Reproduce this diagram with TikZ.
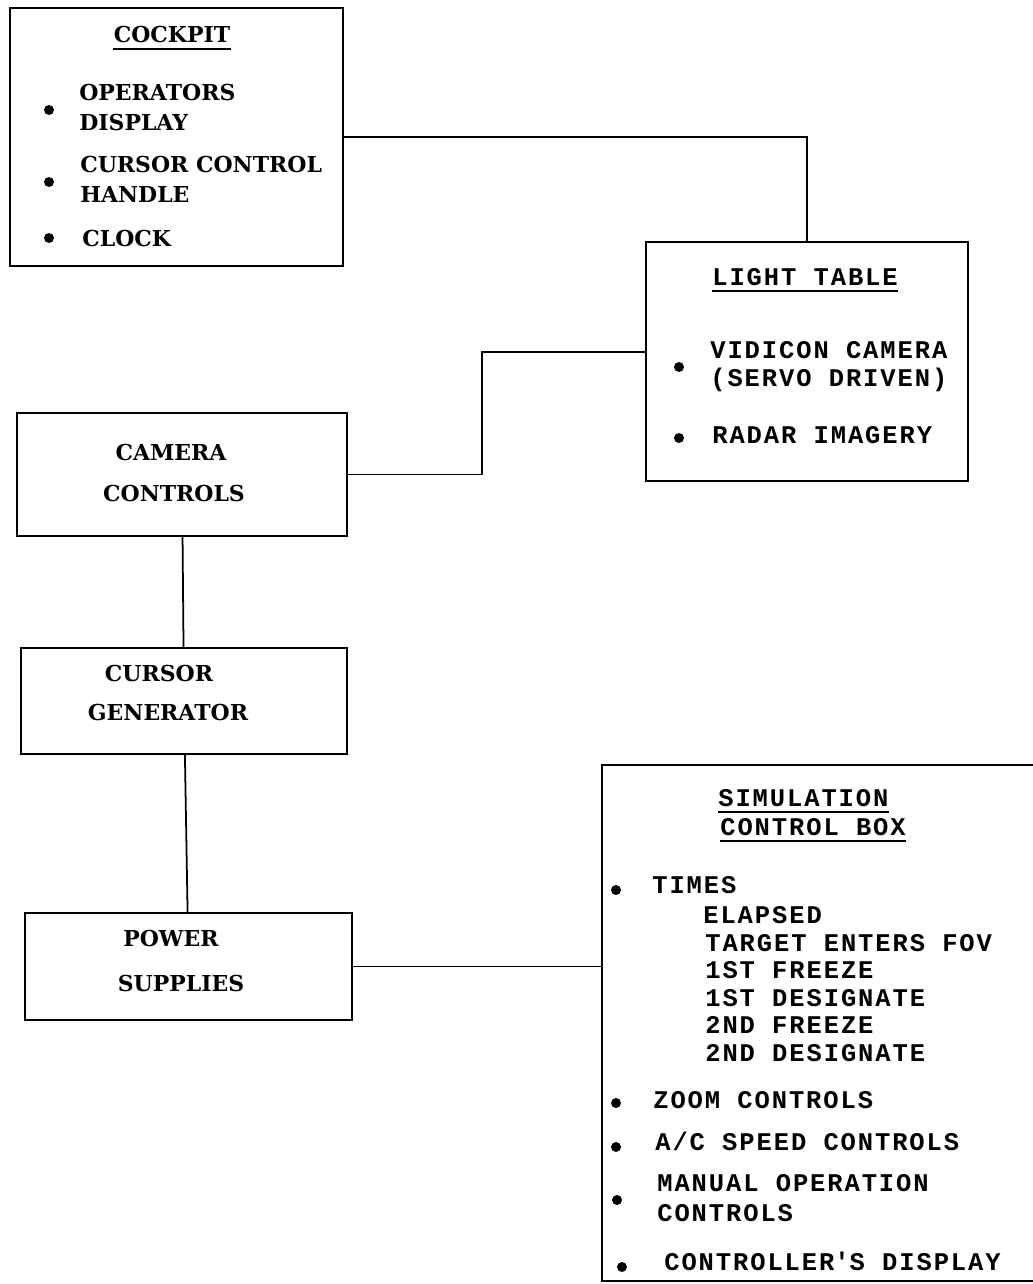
\documentclass[tikz,border=0pt]{standalone}
\usepackage{fontspec}
\setmainfont{DejaVu Serif}
\newfontfamily\typewr[LetterSpace=7.5]{Liberation Mono}

\begin{document}
\begin{tikzpicture}
            [x=0.02cm, y=-0.02cm,
        box/.style={draw, line width=1.4pt, outer sep=0pt, inner sep=0pt},
        wire/.style={line width=1pt},
        uline/.style={line width=1.1pt},
        txt/.style={inner sep=0pt, anchor=base west, font=\fontsize{12.5}{15}\selectfont\bfseries},
        ctxt/.style={txt, anchor=base},
        tt/.style={inner sep=0pt, anchor=base west, font=\typewr\bfseries\fontsize{14.5}{17}\selectfont},
        dot/.style={circle, fill, inner sep=0pt, minimum size=0.2cm}]
            \clip (0,0) rectangle (1033,1284);

            \node[box, minimum width=6.66cm, minimum height=5.16cm] (cockpit) at (176.5,137) {};
            \node[box, minimum width=6.44cm, minimum height=4.78cm] (light) at (807,361.5) {};
            \node[box, minimum width=6.6cm, minimum height=2.46cm] (camera) at (182,474.5) {};
            \node[box, minimum width=6.52cm, minimum height=2.12cm] (cursor) at (184,701) {};
            \node[box, minimum width=6.54cm, minimum height=2.14cm] (power) at (188.5,966.5) {};
            \node[box, minimum width=9.16cm, minimum height=10.32cm] (sim) at (831,1023) {};

            % cockpit
            \node[ctxt] (cpTitle) at (172,43) {COCKPIT};
            \node[dot] (cpB1) at (49,110) {};
            \node[txt] (cpOps) at (79,101) {OPERATORS};
            \node[txt] (cpDisp) at (79,131) {DISPLAY};
            \node[dot] (cpB2) at (49,182) {};
            \node[txt] (cpCur) at (80,173) {CURSOR CONTROL};
            \node[txt] (cpHand) at (80,203) {HANDLE};
            \node[dot] (cpB3) at (49,238) {};
            \node[txt] (cpClock) at (82,246) {CLOCK};

            % light table
            \node[tt] (ltTitle) at (712,285) {LIGHT TABLE};
            \node[dot] (ltB1) at (679,367) {};
            \node[tt] (ltVid) at (710,358) {VIDICON CAMERA};
            \node[tt] (ltServo) at (710,386) {(SERVO DRIVEN)};
            \node[dot] (ltB2) at (679,438) {};
            \node[tt] (ltRadar) at (712,443) {RADAR IMAGERY};

            % left column
            \node[ctxt] (camA) at (171,460) {CAMERA};
            \node[ctxt] (camB) at (174,501) {CONTROLS};
            \node[ctxt] (curA) at (159,681) {CURSOR};
            \node[ctxt] (curB) at (168,720) {GENERATOR};
            \node[ctxt] (powA) at (171,946) {POWER};
            \node[ctxt] (powB) at (181,991) {SUPPLIES};

            % simulation control box
            \node[tt] (simTitleA) at (718,806) {SIMULATION};
            \node[tt] (simTitleB) at (720,835) {CONTROL BOX};
            \node[dot] (simB1) at (616,890) {};
            \node[tt] (simTimes) at (652,893) {TIMES};
            \node[tt] (simT1) at (703,923) {ELAPSED};
            \node[tt] (simT2) at (705,951) {TARGET ENTERS FOV};
            \node[tt] (simT3) at (705,978) {1ST FREEZE};
            \node[tt] (simT4) at (705,1006) {1ST DESIGNATE};
            \node[tt] (simT5) at (705,1033) {2ND FREEZE};
            \node[tt] (simT6) at (705,1061) {2ND DESIGNATE};
            \node[dot] (simB2) at (616,1103) {};
            \node[tt] (simZoom) at (653,1108) {ZOOM CONTROLS};
            \node[dot] (simB3) at (616,1147) {};
            \node[tt] (simSpeed) at (655,1150) {A/C SPEED CONTROLS};
            \node[dot] (simB4) at (617,1200) {};
            \node[tt] (simManA) at (657,1191) {MANUAL OPERATION};
            \node[tt] (simManB) at (657,1221) {CONTROLS};
            \node[dot] (simB5) at (622,1267) {};
            \node[tt] (simDisp) at (664,1270) {CONTROLLER\textquotesingle S DISPLAY};

            % underlined titles
            \foreach \t in {cpTitle, ltTitle, simTitleA, simTitleB}
                \draw[uline] ([yshift=-3.5pt]\t.base west) -- ([yshift=-3.5pt]\t.base east);

            \coordinate (bend) at (482,352);

            \draw[wire] (cockpit) -| (light);
            \draw[wire] (camera.east) -| (bend) -- (light.west |- bend);
            \draw[wire] (camera) -- (cursor);
            \draw[wire] (cursor) -- (power);
            \draw[wire] (power.east) -- (power.east -| sim.west);
        \end{tikzpicture}
\end{document}
